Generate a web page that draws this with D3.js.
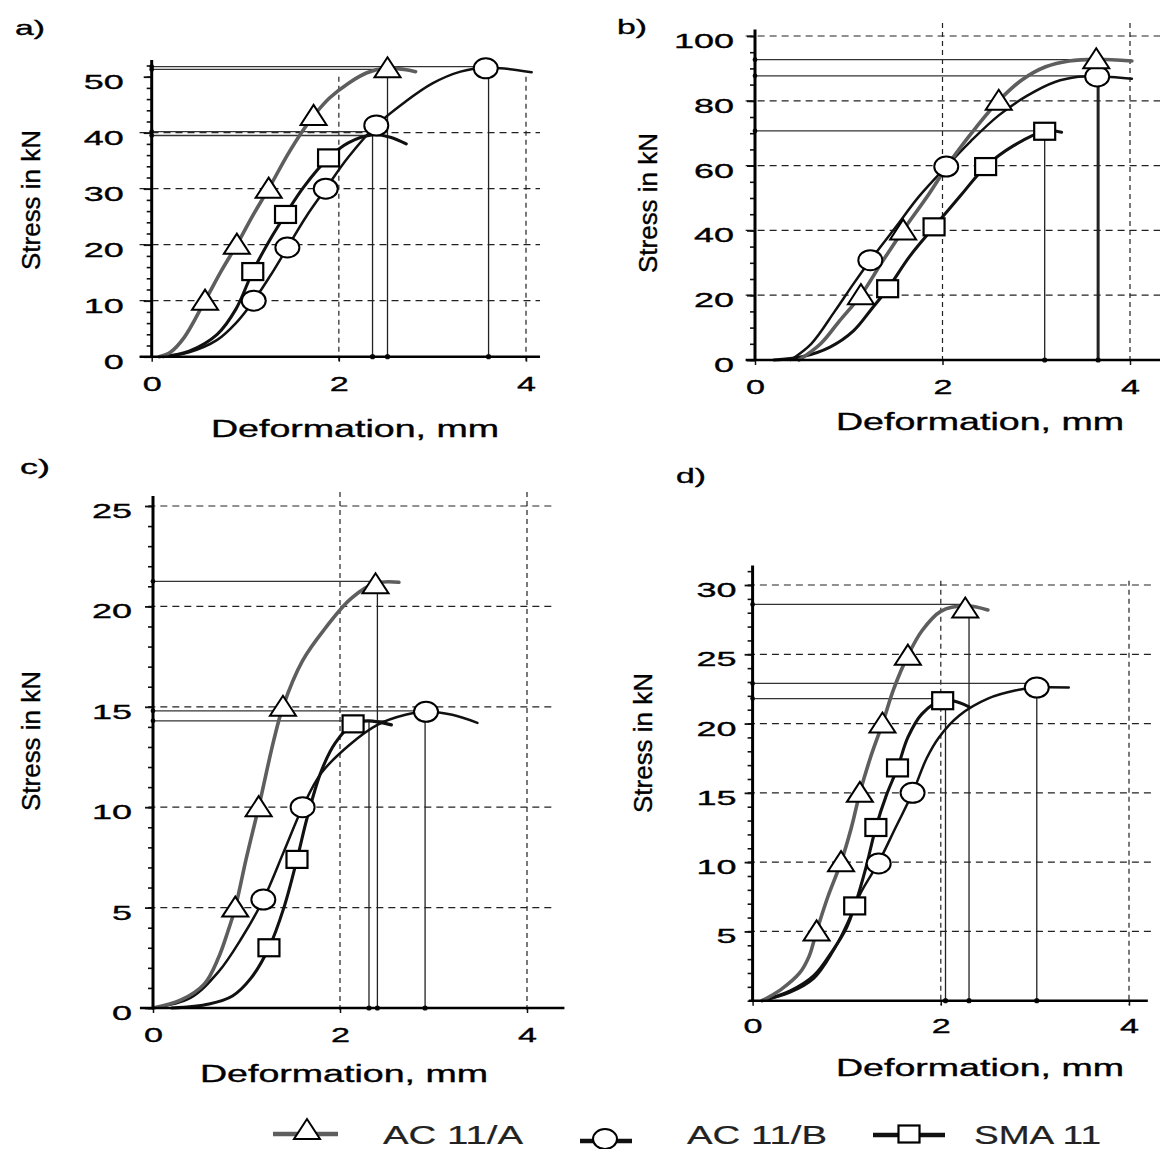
<!DOCTYPE html>
<html lang="en">
<head>
<meta charset="UTF-8">
<title>Stress vs deformation</title>
<script src="https://d3js.org/d3.v7.min.js"></script>
<style>
  body { margin: 0; background: #fff; }
  svg text { font-family: "Liberation Sans", Arial, sans-serif; fill: #000; stroke: #000; stroke-width: 0.35px; }
</style>
</head>
<body>
<script>
// series names (legend order) and marker kinds
var seriesNames = ["AC 11/A", "AC 11/B", "SMA 11"];
var seriesMarks = ["triangle", "circle", "square"];
var xTicks = [0, 2, 4];

// panel a) – curves [mm, kN], markers, peak guide lines
var aTicks = [0, 10, 20, 30, 40, 50];
var aCurveA = [[0.08,0],[0.2,0.8],[0.35,3.5],[0.57,10],[0.75,15.5],[0.91,20],[1.08,25.2],[1.25,30],[1.45,36],[1.6,40],[1.73,43],[1.9,46.2],[2.1,48.8],[2.3,50.7],[2.5,51.5],[2.7,51.3],[2.82,50.9]];
var aMarkA = [[0.57,10],[0.91,20],[1.25,30],[1.73,43],[2.52,51.5]];
var aCurveB = [[0.12,0],[0.4,0.8],[0.7,3],[0.9,6],[1.09,10],[1.28,14.8],[1.45,19.5],[1.65,25],[1.86,30],[2.1,35.6],[2.4,41.3],[2.7,45.4],[3.0,48.8],[3.3,50.9],[3.57,51.6],[3.8,51.4],[4.06,50.8]];
var aMarkB = [[1.09,10],[1.45,19.5],[1.86,30],[2.4,41.3],[3.57,51.5]];
var aCurveS = [[0.12,0],[0.4,1],[0.7,4],[0.9,8.5],[1.08,15.2],[1.25,20.5],[1.43,25.4],[1.62,30.2],[1.89,35.5],[2.1,38.2],[2.35,39.6],[2.55,39.2],[2.72,38]];
var aMarkS = [[1.08,15.2],[1.43,25.4],[1.89,35.5]];
var aPeakH = [[51.8,3.6],[51.3,2.52],[40.2,2.52],[39.5,2.36]];
var aPeakV = [[2.36,39.6],[2.52,51.3],[3.6,51.6]];

// panel b)
var bTicks = [0, 20, 40, 60, 80, 100];
var bCurveA = [[0.47,0],[0.7,5],[0.9,12],[1.13,20],[1.35,30],[1.58,40],[1.85,51],[2.1,62],[2.35,71.5],[2.6,80],[2.85,86.5],[3.1,90.5],[3.35,92.3],[3.64,92.8],[4.02,92.3]];
var bMarkA = [[1.13,20],[1.58,40],[2.6,80],[3.64,92.8]];
var bCurveB = [[0.38,0],[0.6,5],[0.85,15],[1.05,23.5],[1.23,30.8],[1.5,41],[1.75,50.5],[2.04,59.7],[2.3,67.5],[2.6,75.5],[2.9,81.5],[3.2,85.8],[3.45,87.4],[3.65,87.6],[4.02,86.8]];
var bMarkB = [[1.23,30.8],[2.04,59.7],[3.65,87.5]];
var bCurveS = [[0.2,0],[0.5,1],[0.8,4],[1.05,9],[1.25,16],[1.415,22],[1.65,32],[1.91,41.1],[2.2,51],[2.46,59.7],[2.75,66],[3.09,70.6],[3.27,70.3]];
var bMarkS = [[1.415,22],[1.91,41.1],[2.46,59.7],[3.09,70.6]];
var bPeakH = [[92.7,3.64],[87.7,3.66],[70.7,3.09]];
var bPeakV = [[3.09,70.6],[3.66,87.5]];

// panel c)
var cTicks = [0, 5, 10, 15, 20, 25];
var cCurveA = [[0,0],[0.3,0.4],[0.55,1.2],[0.7,2.5],[0.8,3.8],[0.88,5],[1.0,7.5],[1.13,10],[1.29,13.3],[1.39,15],[1.6,17.3],[1.84,18.9],[2.12,20.4],[2.38,21.15],[2.63,21.2]];
var cMarkA = [[0.88,5],[1.13,10],[1.39,15],[2.38,21.1]];
var cCurveB = [[0,0],[0.4,0.5],[0.7,1.8],[0.95,3.5],[1.18,5.4],[1.4,7.8],[1.6,10],[1.8,11.7],[2.1,13.1],[2.4,14.1],[2.7,14.6],[2.92,14.75],[3.2,14.6],[3.47,14.2]];
var cMarkB = [[1.18,5.4],[1.6,10],[2.92,14.75]];
var cCurveS = [[0.2,0],[0.6,0.2],[0.85,0.6],[1.05,1.5],[1.24,3],[1.4,5],[1.54,7.4],[1.65,9.5],[1.8,11.8],[1.95,13.2],[2.14,14.15],[2.3,14.3],[2.55,14.1]];
var cMarkS = [[1.24,3],[1.54,7.4],[2.14,14.15]];
var cPeakH = [[21.25,2.38],[14.8,2.92],[14.3,2.5]];
var cPeakV = [[2.31,14.3],[2.4,21.15],[2.91,14.75]];

// panel d)
var dTicks = [5, 10, 15, 20, 25, 30];
var dCurveA = [[0.1,0],[0.3,0.8],[0.5,2],[0.6,3.2],[0.68,5],[0.8,7.5],[0.94,10],[1.05,12.5],[1.14,15],[1.25,17.5],[1.38,20],[1.5,22.5],[1.65,24.9],[1.8,26.7],[2.0,28.1],[2.26,28.5],[2.5,28.2]];
var dMarkA = [[0.68,5],[0.94,10],[1.14,15],[1.38,20],[1.65,24.9],[2.26,28.3]];
var dCurveB = [[0.1,0],[0.4,0.6],[0.65,1.6],[0.85,3.5],[1.0,5.5],[1.15,7.8],[1.34,10],[1.52,12.5],[1.7,15],[1.85,17.5],[1.98,19],[2.2,20.6],[2.5,21.8],[2.8,22.4],[3.02,22.6],[3.36,22.6]];
var dMarkB = [[1.34,9.9],[1.7,15],[3.02,22.6]];
var dCurveS = [[0.1,0],[0.4,0.7],[0.65,1.8],[0.85,3.6],[1.0,5.3],[1.085,6.84],[1.2,9.5],[1.31,12.5],[1.42,14.8],[1.54,16.8],[1.65,19],[1.8,20.7],[2.02,21.7],[2.2,21.5],[2.3,21.2]];
var dMarkS = [[1.085,6.84],[1.31,12.5],[1.54,16.8],[2.02,21.65]];
var dPeakH = [[28.6,2.26],[22.9,3.02],[21.8,2.02]];
var dPeakV = [[2.05,21.8],[2.3,28.4],[3.02,22.6]];

var svg = d3.select("body").append("svg")
  .attr("width", 1160).attr("height", 1149);

var curveColor = ["#5e5e5e", "#111", "#111"];
var curveWidth = [3.6, 2.5, 3.1];

// layout of the four panels
var panels = [
  { label: "a)", labelPos: [15, 35], xRange: [151.7, 526], yMax: 50, yRange: [356.7, 76.7],
    yTop: 53, xAxis: [-0.13, 4.15], gridH: [10, 20, 30, 40], gridX: [-0.13, 4.15], gridVTop: 50,
    minorStep: 2, minorMax: 52, ticks: aTicks, labelGap: 28, xPad: 14,
    titleY: 437, titleX: 355, yTitleX: 40, yTitleY: 200, vWidth: [1.3, 1.3, 1.3],
    curves: [aCurveA, aCurveB, aCurveS], marks: [aMarkA, aMarkB, aMarkS], peakH: aPeakH, peakV: aPeakV },
  { label: "b)", labelPos: [617, 34], xRange: [755, 1130], yMax: 100, yRange: [360, 36],
    yTop: 102, xAxis: [-0.1, 4.35], gridH: [20, 40, 60, 80, 100], gridX: [-0.1, 4.35], gridVTop: 104,
    minorStep: 5, minorMax: 100, ticks: bTicks, labelGap: 21, xPad: 14,
    titleY: 430, titleX: 980, yTitleX: 657, yTitleY: 203, vWidth: [1.3, 3],
    curves: [bCurveA, bCurveB, bCurveS], marks: [bMarkA, bMarkB, bMarkS], peakH: bPeakH, peakV: bPeakV },
  { label: "c)", labelPos: [20, 474], xRange: [153, 527], yMax: 25, yRange: [1008, 506],
    yTop: 25.5, xAxis: [-0.14, 4.4], gridH: [5, 10, 15, 20, 25], gridX: [-0.05, 4.3], gridVTop: 25.7,
    minorStep: 1, minorMax: 25, ticks: cTicks, labelGap: 21, xPad: 14,
    titleY: 1082, titleX: 344, yTitleX: 40, yTitleY: 741, vWidth: [1.3, 1.3, 1.3],
    curves: [cCurveA, cCurveB, cCurveS], marks: [cMarkA, cMarkB, cMarkS], peakH: cPeakH, peakV: cPeakV },
  { label: "d)", labelPos: [676, 483], xRange: [752.6, 1129], yMax: 30, yRange: [1000.7, 585],
    yTop: 31.4, xAxis: [-0.04, 4.2], gridH: [5, 10, 15, 20, 25, 30], gridX: [-0.05, 4.25], gridVTop: 30.3,
    minorStep: 1, minorMax: 31, ticks: dTicks, labelGap: 16, xPad: 12,
    titleY: 1076, titleX: 980, yTitleX: 652, yTitleY: 743, vWidth: [1.3, 1.3, 1.3],
    curves: [dCurveA, dCurveB, dCurveS], marks: [dMarkA, dMarkB, dMarkS], peakH: dPeakH, peakV: dPeakV }
];

function drawMarker(g, kind, cx, cy) {
  if (kind === "triangle") {
    g.append("path")
      .attr("d", "M" + (cx - 13) + "," + (cy + 9) + "L" + (cx + 13) + "," + (cy + 9) + "L" + cx + "," + (cy - 11) + "Z")
      .attr("fill", "#fff").attr("stroke", "#000").attr("stroke-width", 2).attr("stroke-linejoin", "miter");
  } else if (kind === "circle") {
    g.append("ellipse").attr("cx", cx).attr("cy", cy).attr("rx", 12).attr("ry", 10)
      .attr("fill", "#fff").attr("stroke", "#000").attr("stroke-width", 2);
  } else {
    g.append("rect").attr("x", cx - 10.5).attr("y", cy - 8.5).attr("width", 21).attr("height", 17)
      .attr("fill", "#fff").attr("stroke", "#000").attr("stroke-width", 2.2);
  }
}

panels.forEach(function(p) {
  var x = d3.scaleLinear().domain([0, 4]).range(p.xRange);
  var y = d3.scaleLinear().domain([0, p.yMax]).range(p.yRange);
  var g = svg.append("g");

  // dashed grid
  g.selectAll(".hgrid").data(p.gridH).enter().append("line")
    .attr("x1", x(p.gridX[0])).attr("x2", x(p.gridX[1]))
    .attr("y1", function(d) { return y(d); }).attr("y2", function(d) { return y(d); })
    .attr("stroke", "#222").attr("stroke-width", 1.2).attr("stroke-dasharray", "7,5");
  g.selectAll(".vgrid").data([2, 4]).enter().append("line")
    .attr("x1", function(d) { return x(d); }).attr("x2", function(d) { return x(d); })
    .attr("y1", y(p.gridVTop)).attr("y2", y(0) + 4)
    .attr("stroke", "#222").attr("stroke-width", 1.2).attr("stroke-dasharray", "5,4");

  // peak guide lines
  g.selectAll(".ph").data(p.peakH).enter().append("line")
    .attr("x1", x(0)).attr("x2", function(d) { return x(d[1]); })
    .attr("y1", function(d) { return y(d[0]); }).attr("y2", function(d) { return y(d[0]); })
    .attr("stroke", "#333").attr("stroke-width", 1.3);
  g.selectAll(".pv").data(p.peakV).enter().append("line")
    .attr("x1", function(d) { return x(d[0]); }).attr("x2", function(d) { return x(d[0]); })
    .attr("y1", function(d) { return y(d[1]); }).attr("y2", y(0))
    .attr("stroke", "#222").attr("stroke-width", function(d, i) { return p.vWidth[i] || 1.3; });
  g.selectAll(".pvdot").data(p.peakV).enter().append("circle")
    .attr("cx", function(d) { return x(d[0]); }).attr("cy", y(0)).attr("r", 2.6).attr("fill", "#111");
  g.selectAll(".phdot").data(p.peakH).enter().append("circle")
    .attr("cx", x(0)).attr("cy", function(d) { return y(d[0]); }).attr("r", 2.4).attr("fill", "#111");

  // curves
  var line = d3.line()
    .x(function(d) { return x(d[0]); })
    .y(function(d) { return y(d[1]); })
    .curve(d3.curveCatmullRom.alpha(0.5));
  [2, 1, 0].forEach(function(i) {
    g.append("path").datum(p.curves[i]).attr("d", line)
      .attr("fill", "none").attr("stroke", curveColor[i]).attr("stroke-width", curveWidth[i])
      .attr("stroke-linecap", "round");
  });

  // markers
  [2, 1, 0].forEach(function(i) {
    p.marks[i].forEach(function(m) { drawMarker(g, seriesMarks[i], x(m[0]), y(m[1])); });
  });

  // y axis: minor ticks, major ticks with labels
  var minors = d3.range(0, p.minorMax + 0.001, p.minorStep);
  var ym = g.append("g").attr("transform", "translate(" + x(0) + ",0)")
    .call(d3.axisLeft(y).tickValues(minors).tickSize(5).tickFormat(""));
  ym.select(".domain").remove();
  ym.selectAll("line").attr("stroke", "#111").attr("stroke-width", 1.6);

  var ya = g.append("g").attr("transform", "translate(" + x(0) + ",0)")
    .call(d3.axisLeft(y).tickValues(p.ticks).tickSize(8).tickPadding(p.labelGap - 8).tickFormat(d3.format("d")));
  ya.select(".domain").remove();
  ya.selectAll("line").attr("stroke", "#111").attr("stroke-width", 1.8);
  ya.selectAll("text").attr("font-size", 21).attr("dy", "0.55em")
    .attr("textLength", function(d) { return String(d).length * 20; })
    .attr("lengthAdjust", "spacingAndGlyphs");

  var xa = g.append("g").attr("transform", "translate(0," + y(0) + ")")
    .call(d3.axisBottom(x).tickValues(xTicks).tickSize(5).tickPadding(p.xPad).tickFormat(d3.format("d")));
  xa.select(".domain").remove();
  xa.selectAll("line").attr("stroke", "#111").attr("stroke-width", 1.5);
  xa.selectAll("text").attr("font-size", 21).attr("textLength", 19).attr("lengthAdjust", "spacingAndGlyphs");

  // axis lines
  g.append("line").attr("x1", x(0)).attr("x2", x(0)).attr("y1", y(0) + 1).attr("y2", y(p.yTop))
    .attr("stroke", "#000").attr("stroke-width", 3);
  g.append("line").attr("x1", x(p.xAxis[0])).attr("x2", x(p.xAxis[1])).attr("y1", y(0)).attr("y2", y(0))
    .attr("stroke", "#000").attr("stroke-width", 2.5);

  // titles
  g.append("text").attr("x", p.titleX).attr("y", p.titleY).attr("text-anchor", "middle")
    .attr("font-size", 23).attr("textLength", 288).attr("lengthAdjust", "spacingAndGlyphs")
    .text("Deformation, mm");
  g.append("text").attr("transform", "translate(" + p.yTitleX + "," + p.yTitleY + ") rotate(-90)")
    .attr("text-anchor", "middle").attr("font-size", 26).attr("textLength", 140)
    .attr("lengthAdjust", "spacingAndGlyphs").text("Stress in kN");
  g.append("text").attr("x", p.labelPos[0]).attr("y", p.labelPos[1])
    .attr("font-size", 21).attr("textLength", 30).attr("lengthAdjust", "spacingAndGlyphs").text(p.label);
});

// legend
var legendPos = [
  { line: [273, 338], ly: 1134, mx: 307, my: 1130, tx: 383, tw: 140 },
  { line: [580, 632], ly: 1141, mx: 605, my: 1139, tx: 687, tw: 140 },
  { line: [873, 945], ly: 1135, mx: 909, my: 1134, tx: 974, tw: 127 }
];
var lg = svg.append("g");
seriesNames.forEach(function(name, i) {
  var l = legendPos[i];
  lg.append("line").attr("x1", l.line[0]).attr("x2", l.line[1]).attr("y1", l.ly).attr("y2", l.ly)
    .attr("stroke", curveColor[i]).attr("stroke-width", 4.5);
  drawMarker(lg, seriesMarks[i], l.mx, l.my);
  lg.append("text").attr("x", l.tx).attr("y", 1144).attr("font-size", 25)
    .attr("textLength", l.tw).attr("lengthAdjust", "spacingAndGlyphs")
    .style("fill", "#222").style("stroke", "#222").style("stroke-width", "0.2px").text(name);
});
</script>
</body>
</html>
